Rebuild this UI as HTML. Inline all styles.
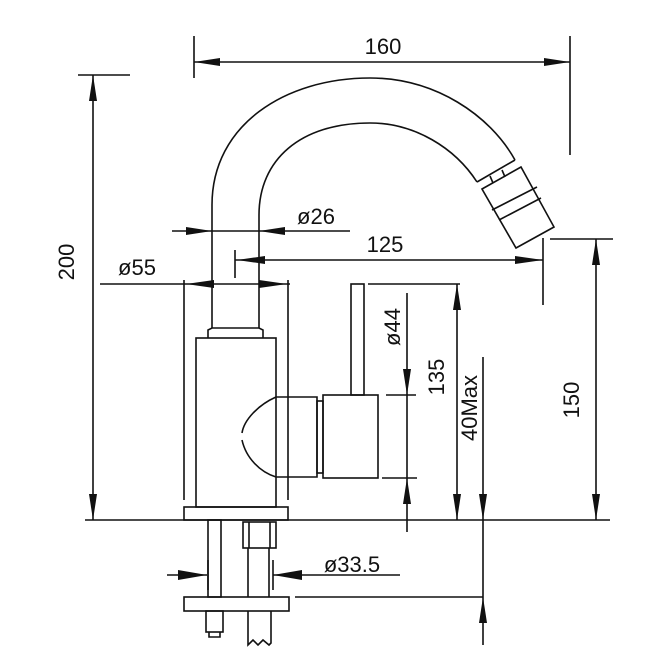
<!DOCTYPE html>
<html><head><meta charset="utf-8"><style>
html,body{margin:0;padding:0;background:#fff;}
svg{display:block;}
text{font-family:"Liberation Sans",sans-serif;font-size:22px;fill:#111;}
</style></head><body>
<svg width="670" height="670" viewBox="0 0 670 670" xmlns="http://www.w3.org/2000/svg">
<g stroke="#111" stroke-width="1.6" fill="none">
<!-- spout -->
<path d="M212,328 L212,205 C212,125 285,78 370,78 C435,78 490,115 515,160"/>
<path d="M259,328 L259,215 C259,160 300,123 370,123 C415,123 455,148 477,182"/>
<path d="M477,182 L515,160"/>
<path d="M490,176 L493,183 M502,170 L505,177"/>
<path d="M482,189 L521,167 L554,227 L516,248 Z"/>
<path d="M492,210 L537,187 M499,220 L541,198"/>
<!-- neck & body -->
<path d="M208,338 L208,330 L212,328 L259,328 L263,330 L263,338"/>
<rect x="196" y="338" width="80" height="169"/>
<rect x="184" y="507" width="104" height="13"/>
<path d="M184,280 L184,500 M288,280 L288,500"/>
<!-- handle -->
<path d="M276,397 C258,405 244,420 242,433 M242,440 C246,458 260,472 276,477"/>
<path d="M276,397 L317,397 L317,477 L276,477"/>
<rect x="317" y="401" width="6" height="72"/>
<rect x="323" y="395" width="55" height="83"/>
<rect x="351" y="284" width="13" height="111"/>
<!-- lower -->
<rect x="208" y="520" width="13" height="77"/>
<path d="M248,548 L248,597 M269,548 L269,597"/>
<rect x="243" y="522" width="33" height="26"/>
<path d="M249,522 L249,548 M270,522 L270,548"/>
<rect x="184" y="597" width="105" height="14"/>
<rect x="206" y="611" width="17" height="21"/>
<path d="M209,632 L209,637 L220,637 L220,632"/>
<path d="M248,611 L248,645 L253,640 L258,645 L263,640 L269,645 L271,643 L271,611"/>
<!-- dimension lines -->
<path d="M194,36 L194,78 M570,36 L570,155 M194,62 L570,62"/>
<path d="M78,75 L130,75 M93,75 L93,520 M85,520 L610,520"/>
<path d="M172,231 L350,231"/>
<path d="M235,250 L235,278 M543,238 L543,305 M235,260 L543,260"/>
<path d="M100,284 L290,284"/>
<path d="M368,284 L460,284 M457,284 L457,520"/>
<path d="M407,293 L407,532 M386,395 L416,395 M382,478 L417,478"/>
<path d="M483,357 L483,645 M295,597 L483,597"/>
<path d="M550,239 L613,239 M596,239 L596,520"/>
<path d="M167,575 L207,575 M208,560 L208,590 M273,560 L273,590 M273,575 L400,575"/>
</g>
<g fill="#111">
<polygon points="194,62 220,58 220,66"/><polygon points="570,62 544,58 544,66"/>
<polygon points="93,75 89,101 97,101"/><polygon points="93,520 89,494 97,494"/>
<polygon points="212,231 186,227 186,235"/><polygon points="259,231 285,227 285,235"/>
<polygon points="237,260 265,256 265,264"/><polygon points="543,260 515,256 515,264"/>
<polygon points="186,284 214,280 214,288"/><polygon points="287,284 259,280 259,288"/>
<polygon points="457,284 453,310 461,310"/><polygon points="457,520 453,494 461,494"/>
<polygon points="407,395 403,369 411,369"/><polygon points="407,478 403,504 411,504"/>
<polygon points="483,520 479,494 487,494"/><polygon points="483,597 479,623 487,623"/>
<polygon points="596,239 592,265 600,265"/><polygon points="596,520 592,494 600,494"/>
<polygon points="207,575 178,570 178,580"/><polygon points="273,575 302,570 302,580"/>
</g>
<text x="383" y="54" text-anchor="middle">160</text>
<text x="316" y="224" text-anchor="middle">ø26</text>
<text x="385" y="252" text-anchor="middle">125</text>
<text x="137" y="275" text-anchor="middle">ø55</text>
<text x="352" y="572" text-anchor="middle">ø33.5</text>
<text transform="translate(74,262) rotate(-90)" text-anchor="middle">200</text>
<text transform="translate(400,327) rotate(-90)" text-anchor="middle">ø44</text>
<text transform="translate(444,377) rotate(-90)" text-anchor="middle">135</text>
<text transform="translate(477,408) rotate(-90)" text-anchor="middle">40Max</text>
<text transform="translate(579,400) rotate(-90)" text-anchor="middle">150</text>
</svg>
</body></html>
